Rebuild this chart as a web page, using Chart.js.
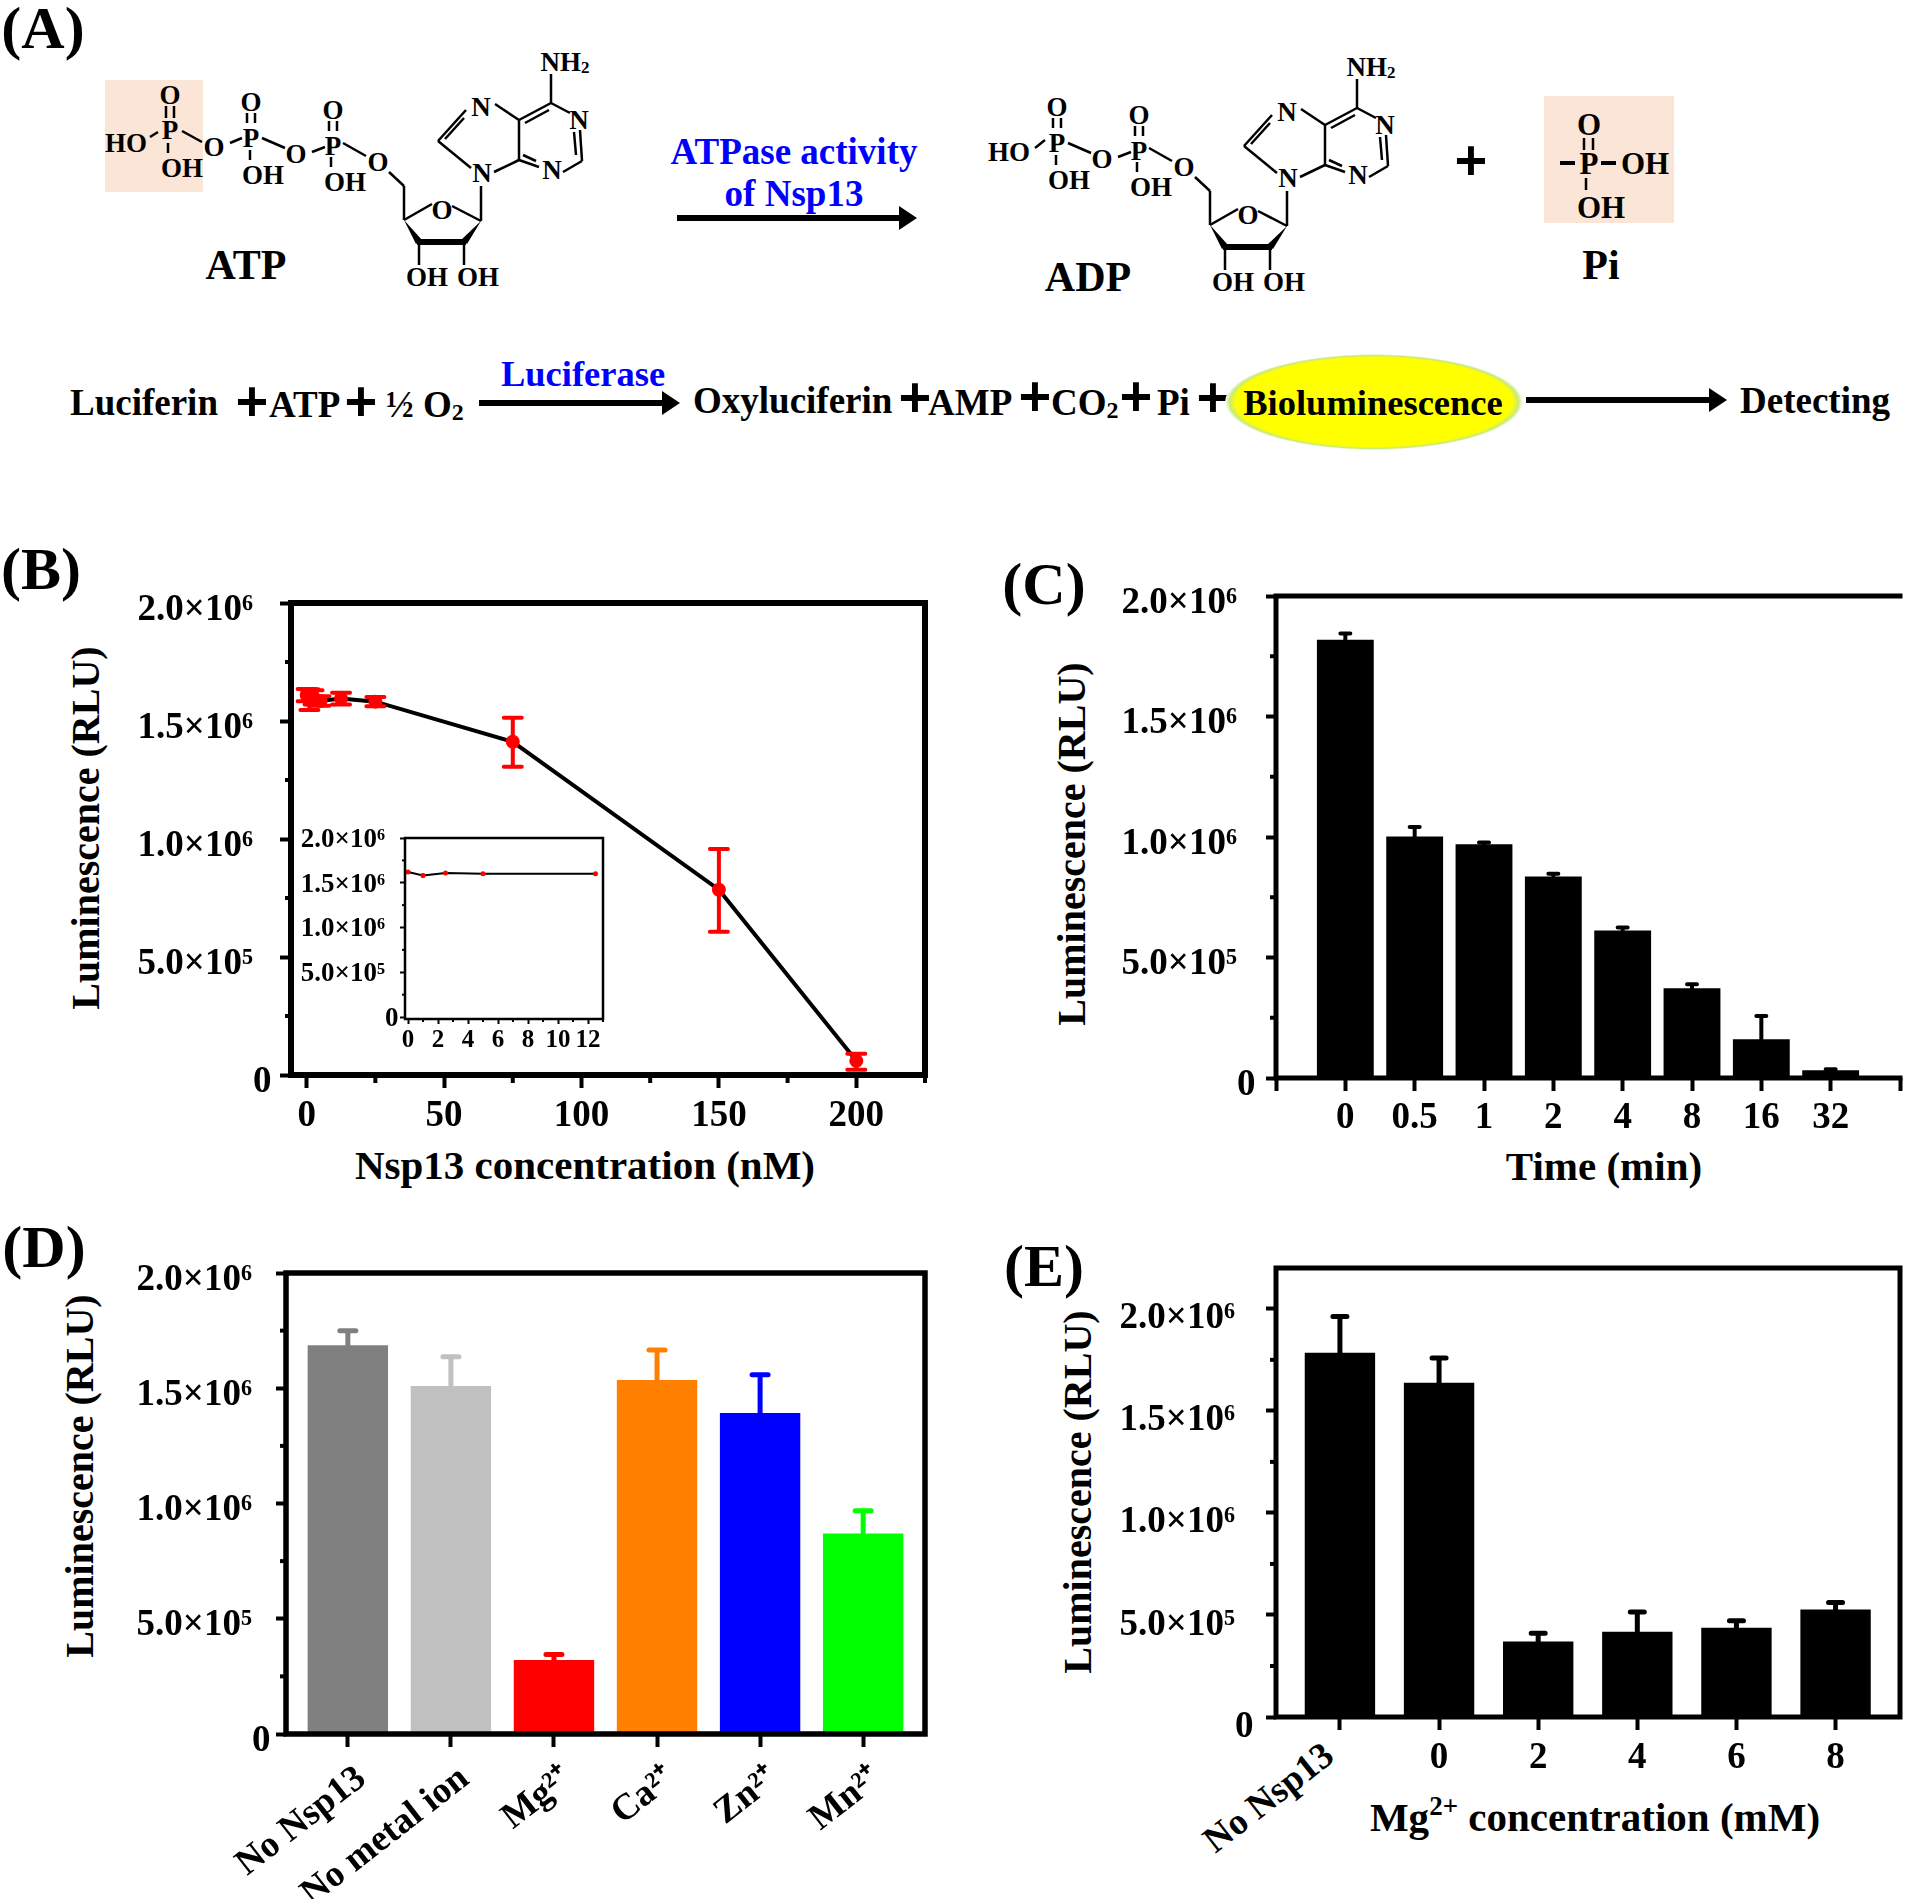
<!DOCTYPE html>
<html>
<head>
<meta charset="utf-8">
<title>Nsp13 ATPase luminescence assay</title>
<script src="https://cdn.jsdelivr.net/npm/chart.js@4/dist/chart.umd.min.js"></script>
<style>
  html, body { margin: 0; padding: 0; background: #fff; }
  #page { position: relative; width: 1908px; height: 1899px; overflow: hidden; }
  canvas { position: absolute; }
  #overlay { position: absolute; left: 0; top: 0; }
  #overlay text { font-family: "Liberation Serif", serif; font-weight: bold; fill: #000; }
</style>
</head>
<body>
<div id="page">
  <svg id="overlay" width="1908" height="1899" xmlns="http://www.w3.org/2000/svg"></svg>
</div>
<script>
'use strict';

var FONT = '"Liberation Serif", serif';
var yTickLabels = ['0', '5.0×10⁵', '1.0×10⁶', '1.5×10⁶', '2.0×10⁶'];

// Panel B, dose response
var nsp13Conc = [0, 1, 2.5, 5, 12.5, 25, 75, 150, 200];
var nsp13Lum = [1610000, 1590000, 1600000, 1585000, 1595000, 1582000, 1412000, 785000, 60000];
var nsp13Upper = [1636000, 1635000, 1630000, 1605000, 1620000, 1602000, 1514000, 958000, 90000];
var nsp13Lower = [1584000, 1547000, 1570000, 1565000, 1570000, 1562000, 1306000, 607000, 22000];
var nsp13Ticks = ['0', '50', '100', '150', '200'];

// Panel B inset
var insetConc = [0, 1, 2.5, 5, 12.5];
var insetLum = [1620000, 1580000, 1610000, 1600000, 1600000];
var insetUpper = [1635000, 1600000, 1625000, 1615000, 1615000];
var insetLower = [1605000, 1560000, 1595000, 1585000, 1585000];

// Panel C, time course
var timeLabels = ['', '0', '0.5', '1', '2', '4', '8', '16', '32', ''];
var timeLum = [1818000, 1002000, 970000, 836000, 612000, 372000, 161000, 32000];
var timeUpper = [1844000, 1042000, 977000, 848000, 624000, 389000, 257000, 36000];

// Panel D, metal ions
var metalLabels = ['No Nsp13', 'No metal ion', 'Mg²⁺', 'Ca²⁺', 'Zn²⁺', 'Mn²⁺'];
var metalLum = [1687000, 1510000, 321000, 1536000, 1393000, 870000];
var metalUpper = [1750000, 1637000, 345000, 1666000, 1559000, 969000];
var metalColors = ['#808080', '#c0c0c0', '#ff0000', '#ff8000', '#0000ff', '#00ff00'];

// Panel E, Mg2+ titration
var mgLabels = ['', '0', '2', '4', '6', '8'];
var mgLum = [1785000, 1638000, 370000, 418000, 437000, 527000];
var mgUpper = [1962000, 1759000, 410000, 515000, 471000, 561000];

function range(from, to, step) {
  var out = [];
  for (var v = from; v <= to + 1e-6; v += step) {
    out.push(v);
  }
  return out;
}

function yLabel(value) {
  var i = value / 500000;
  if (!Number.isInteger(i)) {
    return '';
  }
  // the zero sits closer to the axis than the other labels
  return i === 0 ? yTickLabels[i] : yTickLabels[i] + '\u00a0\u00a0';
}

function isYMinor(value) {
  return value % 500000 !== 0;
}

// error bars go through the chart scales, nothing is positioned by hand
var errorBars = {
  id: 'errorBars',
  afterDatasetsDraw: function (chart, args, opts) {
    if (!opts.upper) {
      return;
    }
    var ctx = chart.ctx;
    var xs = chart.scales.x;
    var ys = chart.scales.y;
    var xVals = chart.data.datasets[0].data;
    ctx.save();
    ctx.lineWidth = opts.width;
    ctx.lineCap = 'round';
    for (var i = 0; i < xVals.length; i++) {
      var px = xs.getPixelForValue(xVals[i].x);
      var top = ys.getPixelForValue(opts.upper[i]);
      var bottom = ys.getPixelForValue(opts.lower ? opts.lower[i] : xVals[i].y);
      ctx.strokeStyle = Array.isArray(opts.color) ? opts.color[i] : opts.color;
      ctx.beginPath();
      ctx.moveTo(px, top);
      ctx.lineTo(px, bottom);
      ctx.moveTo(px - opts.cap, top);
      ctx.lineTo(px + opts.cap, top);
      if (opts.lower) {
        ctx.moveTo(px - opts.cap, bottom);
        ctx.lineTo(px + opts.cap, bottom);
      }
      ctx.stroke();
    }
    ctx.restore();
  }
};

var frame = {
  id: 'frame',
  afterDatasetsDraw: function (chart, args, opts) {
    var a = chart.chartArea;
    var ctx = chart.ctx;
    ctx.save();
    ctx.strokeStyle = '#000';
    ctx.lineWidth = opts.width;
    ctx.lineCap = 'square';
    ctx.beginPath();
    ctx.moveTo(a.right, a.top);
    ctx.lineTo(a.left, a.top);
    ctx.lineTo(a.left, a.bottom);
    ctx.lineTo(a.right, a.bottom);
    if (opts.right) {
      ctx.lineTo(a.right, a.top);
    }
    ctx.stroke();
    ctx.restore();
  }
};

// shorter tick marks for the unlabelled values
var minorTicks = {
  id: 'minorTicks',
  afterDraw: function (chart, args, opts) {
    var a = chart.chartArea;
    var ctx = chart.ctx;
    ctx.save();
    ctx.strokeStyle = '#000';
    ctx.lineWidth = opts.width;
    chart.scales.y.ticks.forEach(function (t) {
      if (isYMinor(t.value)) {
        var py = chart.scales.y.getPixelForValue(t.value);
        ctx.beginPath();
        ctx.moveTo(a.left, py);
        ctx.lineTo(a.left - opts.yLen, py);
        ctx.stroke();
      }
    });
    chart.scales.x.ticks.forEach(function (t) {
      if (opts.xMinor && opts.xMinor(t.value)) {
        var px = chart.scales.x.getPixelForValue(t.value);
        ctx.beginPath();
        ctx.moveTo(px, a.bottom);
        ctx.lineTo(px, a.bottom + opts.xLen);
        ctx.stroke();
      }
    });
    ctx.restore();
  }
};

Chart.register(errorBars, frame, minorTicks);

function makeChart(p) {
  var pad = 10;
  var canvas = document.createElement('canvas');
  var w = p.right - p.left + p.yWidth + pad;
  var h = p.bottom - p.top + p.xHeight + pad;
  canvas.width = w;
  canvas.height = h;
  canvas.style.left = (p.left - p.yWidth) + 'px';
  canvas.style.top = (p.top - pad) + 'px';
  canvas.style.width = w + 'px';
  canvas.style.height = h + 'px';
  document.getElementById('page').appendChild(canvas);

  return new Chart(canvas.getContext('2d'), {
    type: p.type,
    data: { datasets: [p.dataset] },
    options: {
      responsive: false,
      animation: false,
      layout: { autoPadding: false, padding: { top: pad, right: pad, left: 0, bottom: 0 } },
      plugins: {
        legend: { display: false },
        tooltip: { enabled: false },
        errorBars: p.errors,
        frame: { width: p.lineWidth, right: p.rightBorder },
        minorTicks: { width: p.tickWidth, yLen: p.yMinorLength, xLen: p.xMinorLength, xMinor: p.xMinor }
      },
      scales: {
        x: {
          type: 'linear',
          offset: false,
          min: p.xMin,
          max: p.xMax,
          border: { display: false },
          grid: {
            offset: false,
            drawOnChartArea: false,
            tickLength: p.tickLength,
            tickWidth: p.tickWidth,
            tickColor: function (c) {
              return c.tick && p.xMinor && p.xMinor(c.tick.value) ? 'rgba(0,0,0,0)' : '#000';
            }
          },
          afterBuildTicks: function (s) {
            s.ticks = p.xTicks.map(function (v) { return { value: v }; });
          },
          afterFit: function (s) {
            s.height = p.xHeight;
            s.paddingLeft = 0;
            s.paddingRight = 0;
          },
          ticks: {
            autoSkip: false,
            minRotation: p.xRotation || 0,
            maxRotation: p.xRotation || 0,
            padding: p.xPadding,
            labelOffset: p.xLabelOffset || 0,
            color: '#000',
            font: { family: FONT, weight: 'bold', size: p.xFontSize || p.fontSize },
            callback: p.xLabel
          }
        },
        y: {
          type: 'linear',
          min: p.yMin,
          max: p.yMax,
          border: { display: false },
          grid: {
            drawOnChartArea: false,
            tickLength: p.yTickLength,
            tickWidth: p.tickWidth,
            tickColor: function (c) {
              return c.tick && isYMinor(c.tick.value) ? 'rgba(0,0,0,0)' : '#000';
            }
          },
          afterBuildTicks: function (s) {
            s.ticks = range(0, p.yMax > 2000000 ? 2000000 : p.yMax, 250000).map(function (v) { return { value: v }; });
          },
          afterFit: function (s) {
            s.width = p.yWidth;
            s.paddingTop = 0;
            s.paddingBottom = 0;
          },
          ticks: {
            autoSkip: false,
            padding: p.yPadding,
            labelOffset: p.yLabelOffset,
            color: '#000',
            font: { family: FONT, weight: 'bold', size: p.fontSize },
            callback: yLabel
          }
        }
      }
    }
  });
}

function toPoints(xs, ys) {
  return ys.map(function (y, i) { return { x: xs[i], y: y }; });
}

function barDataset(values, colors, percent) {
  var xs = values.map(function (v, i) { return i; });
  return {
    data: toPoints(xs, values),
    backgroundColor: colors,
    borderWidth: 0,
    barPercentage: percent,
    categoryPercentage: 1
  };
}

// Panel B
makeChart({
  type: 'line', left: 291, right: 925, top: 603, bottom: 1075,
  yWidth: 180, xHeight: 70, xMin: -5.7, xMax: 225, yMin: 0, yMax: 2000000,
  xTicks: range(0, 225, 25),
  xLabel: function (v) { return v % 50 === 0 ? nsp13Ticks[v / 50] : ''; },
  xMinor: function (v) { return v % 50 !== 0; },
  fontSize: 37, lineWidth: 6, rightBorder: true,
  tickLength: 13, xMinorLength: 8, yTickLength: 11, yMinorLength: 6, tickWidth: 4,
  xPadding: 6, yPadding: 8.5, yLabelOffset: 7,
  dataset: {
    data: toPoints(nsp13Conc, nsp13Lum),
    borderColor: '#000', borderWidth: 4, tension: 0,
    pointBackgroundColor: '#ff0000', pointBorderWidth: 0, pointRadius: 7
  },
  errors: { upper: nsp13Upper, lower: nsp13Lower, color: '#ff0000', cap: 9, width: 4 }
});

// Panel B inset
makeChart({
  type: 'line', left: 405, right: 603, top: 838, bottom: 1019,
  yWidth: 105, xHeight: 40, xMin: -0.2, xMax: 13, yMin: -22000, yMax: 2000000,
  xTicks: range(0, 13, 1),
  xLabel: function (v) { return v % 2 === 0 && v <= 12 ? String(v) : ''; },
  xMinor: function (v) { return v % 2 !== 0; },
  fontSize: 27, xFontSize: 25, lineWidth: 2.5, rightBorder: true,
  tickLength: 5, xMinorLength: 3, yTickLength: 5, yMinorLength: 3, tickWidth: 2,
  xPadding: 2, yPadding: 1.5, yLabelOffset: 2,
  dataset: {
    data: toPoints(insetConc, insetLum),
    borderColor: '#000', borderWidth: 2, tension: 0,
    pointBackgroundColor: '#ff0000', pointBorderWidth: 0, pointRadius: 2.5
  },
  errors: { upper: insetUpper, lower: insetLower, color: '#ff0000', cap: 1, width: 1 }
});

// Panel C
makeChart({
  type: 'bar', left: 1276, right: 1900, top: 596, bottom: 1078,
  yWidth: 180, xHeight: 70, xMin: -1, xMax: 8, yMin: 0, yMax: 2000000,
  xTicks: range(-1, 8, 1),
  xLabel: function (v) { return timeLabels[v + 1]; },
  fontSize: 37, lineWidth: 5, rightBorder: false,
  tickLength: 13, yTickLength: 10, yMinorLength: 6, tickWidth: 4,
  xPadding: 5, yPadding: 10.5, yLabelOffset: 7,
  dataset: barDataset(timeLum, '#000', 0.82),
  errors: { upper: timeUpper, color: '#000', cap: 5, width: 4 }
});

// Panel D
makeChart({
  type: 'bar', left: 286, right: 925, top: 1273, bottom: 1734,
  yWidth: 180, xHeight: 165, xMin: -0.6, xMax: 5.6, yMin: 0, yMax: 2000000,
  xTicks: range(0, 5, 1),
  xLabel: function (v) { return metalLabels[v]; },
  xRotation: 38, xLabelOffset: 14,
  fontSize: 37, lineWidth: 5.5, rightBorder: true,
  tickLength: 13, yTickLength: 10, yMinorLength: 6, tickWidth: 4,
  xPadding: 10, yPadding: 5.5, yLabelOffset: 7,
  dataset: barDataset(metalLum, metalColors, 0.78),
  errors: { upper: metalUpper, color: metalColors, cap: 8, width: 5 }
});

// Panel E
makeChart({
  type: 'bar', left: 1276, right: 1900, top: 1268, bottom: 1717,
  yWidth: 180, xHeight: 70, xMin: -0.645, xMax: 5.65, yMin: 0, yMax: 2200000,
  xTicks: range(0, 5, 1),
  xLabel: function (v) { return mgLabels[v]; },
  fontSize: 37, lineWidth: 5, rightBorder: true,
  tickLength: 13, yTickLength: 10, yMinorLength: 6, tickWidth: 4,
  xPadding: 6, yPadding: 12.5, yLabelOffset: 10,
  dataset: barDataset(mgLum, '#000', 0.71),
  errors: { upper: mgUpper, color: '#000', cap: 7, width: 5 }
});

// ---- everything that is not a chart: scheme, panel letters, axis titles ----
function txt(s, x, y, size, extra) {
  return '<text x="' + x + '" y="' + y + '" font-size="' + size + '" text-anchor="' +
    ((extra && extra.anchor) || 'middle') + '" dominant-baseline="central"' +
    (extra && extra.fill ? ' style="fill:' + extra.fill + '"' : '') +
    (extra && extra.rot ? ' transform="rotate(' + extra.rot + ' ' + x + ' ' + y + ')"' : '') +
    '>' + s + '</text>';
}

function bonds(list, width) {
  return list.map(function (b) {
    return '<line x1="' + b[0] + '" y1="' + b[1] + '" x2="' + b[2] + '" y2="' + b[3] +
      '" stroke="#000" stroke-width="' + (width || 2.5) + '"/>';
  }).join('');
}

function arrow(x1, x2, y) {
  return '<line x1="' + x1 + '" y1="' + y + '" x2="' + (x2 - 10) + '" y2="' + y + '" stroke="#000" stroke-width="6"/>' +
    '<polygon points="' + (x2 - 18) + ',' + (y - 12) + ' ' + x2 + ',' + y + ' ' + (x2 - 18) + ',' + (y + 12) + '" fill="#000"/>';
}

function plus(x, y) {
  return '<text x="' + x + '" y="' + y + '" font-size="56" text-anchor="middle" dominant-baseline="central" stroke="#000" stroke-width="2">+</text>';
}

// second and third phosphate plus the nucleoside, shared by ATP and ADP
var atomSize = 27;
var sharedPart =
  txt('P', 251, 138, atomSize) + txt('O', 251, 102, atomSize) + txt('OH', 263, 175, atomSize) + txt('O', 296, 154, atomSize) +
  txt('P', 333, 146, atomSize) + txt('O', 333, 110, atomSize) + txt('OH', 345, 182, atomSize) + txt('O', 378, 162, atomSize) +
  txt('O', 442, 210, atomSize) + txt('OH', 427, 277, atomSize) + txt('OH', 478, 277, atomSize) +
  txt('N', 482, 173, atomSize) + txt('N', 481, 107, atomSize) + txt('N', 579, 120, atomSize) + txt('N', 552, 170, atomSize) +
  txt('NH<tspan dy="5" font-size="17">2</tspan>', 565, 62, atomSize) +
  bonds([
    [247, 113, 247, 123], [255, 113, 255, 123], [250, 150, 250, 160], [262, 138, 285, 148],
    [312, 152, 325, 147], [329, 121, 329, 131], [337, 121, 337, 131], [331, 157, 331, 167],
    [343, 143, 366, 156], [389, 172, 404, 186], [404, 186, 404, 220], [404, 220, 432, 204],
    [452, 206, 481, 221], [481, 221, 481, 186], [419, 242, 419, 265], [464, 242, 464, 265],
    [471, 168, 438, 141], [438, 141, 466, 110], [445, 139, 464, 118], [495, 104, 519, 120],
    [519, 120, 519, 160], [519, 120, 551, 103], [525, 123, 549, 110], [551, 103, 570, 113],
    [580, 130, 582, 161], [574, 132, 576, 155], [582, 161, 563, 172], [539, 167, 519, 160],
    [536, 161, 523, 155], [519, 160, 494, 172], [551, 103, 551, 74]
  ]) +
  '<polygon points="404,220 416,244 422,240" fill="#000"/><polygon points="481,221 461,240 467,244" fill="#000"/>' +
  '<line x1="417" y1="242" x2="466" y2="242" stroke="#000" stroke-width="6"/>';

var svg = '';
svg += '<defs><radialGradient id="glow"><stop offset="0.93" stop-color="#ffff00"/><stop offset="0.97" stop-color="#c9ea7a"/><stop offset="1" stop-color="#ffffff"/></radialGradient></defs>';

// panel letters
svg += txt('(A)', 43, 28, 60) + txt('(B)', 41, 569, 60) + txt('(C)', 1044, 584, 60) + txt('(D)', 44, 1247, 60) + txt('(E)', 1044, 1266, 60);

// reaction with ATP
svg += '<rect x="105" y="80" width="98" height="112" fill="#fbe5d6"/>';
svg += '<rect x="1544" y="96" width="130" height="127" fill="#fbe5d6"/>';
svg += sharedPart;
svg += txt('P', 170, 130, atomSize) + txt('O', 170, 95, atomSize) + txt('HO', 126, 143, atomSize) + txt('OH', 182, 168, atomSize) + txt('O', 214, 147, atomSize);
svg += bonds([[166, 106, 166, 118], [174, 106, 174, 118], [150, 137, 158, 132], [168, 143, 168, 153], [182, 131, 202, 142], [230, 143, 242, 138]]);
svg += txt('ATP', 246, 265, 42);

svg += txt('ATPase activity', 794, 151, 37, { fill: '#0000ff' }) + txt('of Nsp13', 794, 193, 37, { fill: '#0000ff' });
svg += arrow(677, 917, 218);

// products
svg += '<g transform="translate(806,5)">' + sharedPart + '</g>';
svg += txt('HO', 1009, 152, atomSize);
svg += bonds([[1035, 148, 1045, 140]]);
svg += txt('ADP', 1088, 277, 42);
svg += plus(1471, 161);
svg += txt('O', 1589, 124, 31) + txt('P', 1589, 163, 31) + txt('OH', 1645, 163, 31) + txt('OH', 1601, 207, 31);
svg += bonds([[1584, 138, 1584, 150], [1593, 138, 1593, 150], [1586, 178, 1586, 190]]);
svg += bonds([[1560, 163, 1575, 163], [1601, 163, 1616, 163]], 4);
svg += txt('Pi', 1601, 265, 42);

// luciferase reaction line
svg += txt('Luciferin', 70, 402, 37, { anchor: 'start' }) + plus(252, 402);
svg += txt('ATP', 269, 404, 37, { anchor: 'start' }) + plus(361, 402);
svg += txt('½ O<tspan dy="8" font-size="24">2</tspan>', 386, 404, 37, { anchor: 'start' });
svg += arrow(479, 680, 403);
svg += txt('Luciferase', 583, 373, 36.5, { fill: '#0000ff' });
svg += txt('Oxyluciferin', 693, 400, 37, { anchor: 'start' }) + plus(915, 398);
svg += txt('AMP', 928, 402, 37, { anchor: 'start' }) + plus(1035, 397);
svg += txt('CO<tspan dy="8" font-size="24">2</tspan>', 1051, 402, 37, { anchor: 'start' }) + plus(1136, 397);
svg += txt('Pi', 1157, 402, 37, { anchor: 'start' }) + plus(1213, 398);
svg += '<ellipse cx="1374" cy="402" rx="149" ry="48" fill="url(#glow)"/>';
svg += txt('Bioluminescence', 1373, 402, 36.5);
svg += arrow(1526, 1727, 400);
svg += txt('Detecting', 1740, 400, 37, { anchor: 'start' });

// axis titles
svg += txt('Luminescence (RLU)', 85, 828, 40, { rot: -90 });
svg += txt('Nsp13 concentration (nM)', 585, 1165, 41);
svg += txt('Luminescence (RLU)', 1071, 844, 40, { rot: -90 });
svg += txt('Time (min)', 1604, 1166, 41);
svg += txt('Luminescence (RLU)', 79, 1476, 40, { rot: -90 });
svg += txt('Luminescence (RLU)', 1077, 1492, 40, { rot: -90 });
svg += txt('Mg<tspan dy="-11" font-size="27">2+</tspan><tspan dy="11"> concentration (mM)</tspan>', 1595, 1817, 41);
svg += txt('No Nsp13', 1268, 1797, 37, { rot: -38 });

document.getElementById('overlay').innerHTML = svg;
</script>
</body>
</html>
